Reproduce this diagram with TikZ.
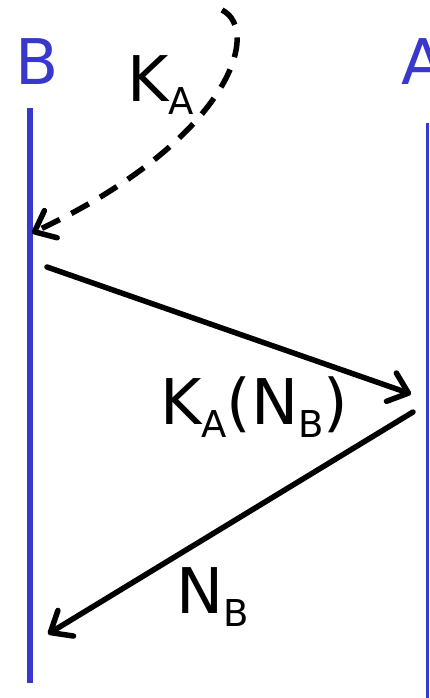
\documentclass[tikz,border=0pt]{standalone}
\usepackage{fontspec}
\setmainfont{DejaVu Sans}
\usetikzlibrary{arrows.meta}
\definecolor{lineblue}{RGB}{56,56,204}
\newcommand{\mysub}[1]{{\fontsize{37}{37}\selectfont\raisebox{-13pt}{#1}}}
\begin{document}
\begin{tikzpicture}[x=1pt,y=-1pt,
  big/.style={font=\fontsize{63}{63}\selectfont, inner sep=0pt, anchor=base west},
  lifeline/.style={draw=lineblue},
  msg/.style={line width=5.5pt, line cap=round, -{Straight Barb[length=18pt,width=30pt,round]}}
]
\useasboundingbox (0,0) rectangle (429,698);
% lifelines
\coordinate (Btop) at (29.5,108);
\coordinate (Bbot) at (29.5,683);
\coordinate (Atop) at (427.5,123);
\coordinate (Abot) at (427.5,698);
\draw[lifeline, line width=6pt] (Btop) -- (Bbot);
\draw[lifeline, line width=3pt] (Atop) -- (Abot);
% headers
\node[big, text=lineblue, anchor=base] (B) at (37,85) {B};
\node[big, text=lineblue, anchor=base] (A) at (423,85) {A};
% dashed key delivery
\coordinate (k0) at (222,10);
\coordinate (k1) at (32,233);
\draw[msg, dash pattern=on 20pt off 13pt, line cap=butt] (k0) .. controls (262,30) and (230,140) .. (k1);
\node[big] (KA) at (127,102) {K\mysub{A}};
% messages
\coordinate (m1s) at (47,267);
\coordinate (m1e) at (411,394);
\draw[msg] (m1s) -- (m1e);
\node[big] (KANB) at (160,424) {K\mysub{A}(N\mysub{B})};
\coordinate (m2s) at (413,412);
\coordinate (m2e) at (48,634);
\draw[msg] (m2s) -- (m2e);
\node[big] (NB) at (176,613) {N\mysub{B}};
\end{tikzpicture}
\end{document}
